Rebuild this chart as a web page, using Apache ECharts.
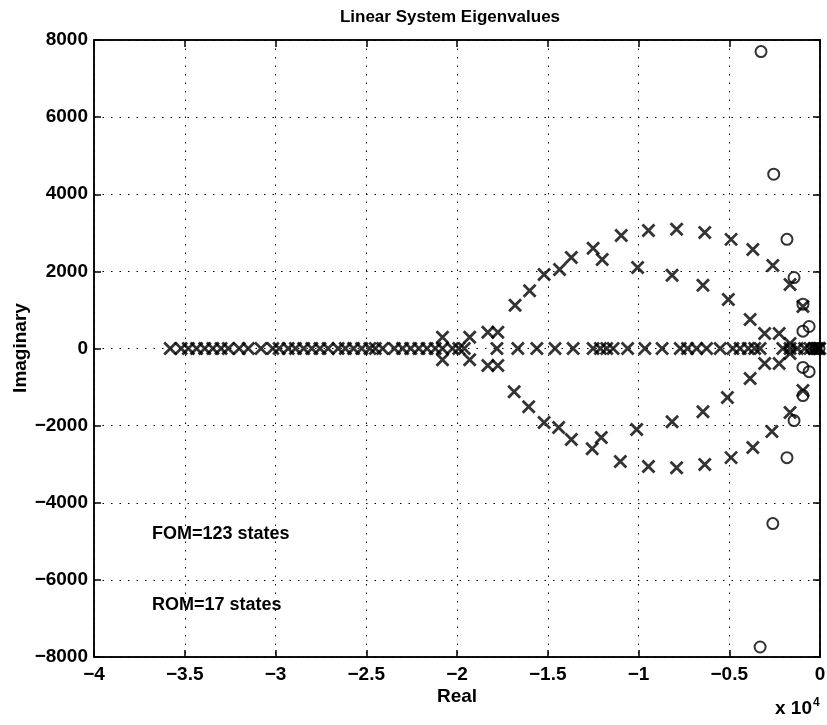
<!DOCTYPE html>
<html>
<head>
<meta charset="utf-8">
<script src="https://cdn.jsdelivr.net/npm/echarts@6/dist/echarts.min.js"></script>
<style>
  html, body { margin: 0; padding: 0; background: #fff; }
  #chart { width: 827px; height: 725px; }
</style>
</head>
<body>
<div id="chart"></div>
<script>
// eigenvalues on the real axis (imag = 0)
var fomAxisRe = [-35800, -35200, -34800, -34350, -33900, -33450, -33000, -32600, -32000, -31500,
  -30800, -30150, -29800, -29300, -28900, -28450, -28000, -27550, -27100, -26550, -26150,
  -25700, -25250, -24800, -24500, -24100, -23450, -23000, -22550, -22100, -21650, -21200,
  -20800, -20250, -19900, -19600, -17800, -16650, -15600, -14600, -13600, -12500, -12100,
  -11750, -11400, -10600, -9650, -8700, -7700, -7300, -6800, -6250, -5500, -4800, -4400,
  -3950, -3600, -3300, -2050, -1650, -1250, -850, -550, -330, -160, -60, -20];

// complex eigenvalues, upper half plane
var fomUpperRe = [-20800, -19300, -18300, -17750, -16800, -16000, -15200, -14350, -13700, -12500,
  -12000, -10950, -10050, -9450, -7900, -8150, -6350, -6450, -4900, -5050, -3700, -3850,
  -3050, -2250, -2600, -1650, -940, -1650];
var fomUpperIm = [290, 290, 420, 420, 1120, 1500, 1920, 2050, 2360, 2600,
  2310, 2930, 2100, 3060, 3090, 1900, 3010, 1640, 2830, 1270, 2570, 750,
  390, 390, 2150, 1660, 1090, 130];

// complex eigenvalues, lower half plane
var fomLowerRe = [-20800, -19300, -18300, -17750, -16850, -16050, -15200, -14400, -13700, -12550,
  -12050, -11000, -10100, -9450, -7900, -8150, -6350, -6450, -4900, -5100, -3700, -3850,
  -3050, -2250, -2650, -1650, -940, -1650];
var fomLowerIm = [-290, -290, -440, -440, -1120, -1510, -1920, -2050, -2360, -2600,
  -2310, -2930, -2100, -3060, -3090, -1900, -3010, -1640, -2830, -1270, -2570, -780,
  -390, -390, -2150, -1660, -1090, -130];

// reduced order model
var romRe = [-3250, -2550, -1820, -1430, -940, -940, -600,
  -3300, -2600, -1820, -1430, -940, -940, -600, -440, -220, -55];
var romIm = [7700, 4520, 2830, 1840, 1150, 450, 570,
  -7740, -4540, -2830, -1870, -1220, -490, -600, 0, 0, 0];

var xMin = -40000, xMax = 0, xStep = 5000;
var yMin = -8000, yMax = 8000, yStep = 2000;

var fomData = [];
fomAxisRe.forEach(function (v) { fomData.push([v, 0]); });
fomUpperRe.forEach(function (v, i) { fomData.push([v, fomUpperIm[i]]); });
fomLowerRe.forEach(function (v, i) { fomData.push([v, fomLowerIm[i]]); });
var romData = romRe.map(function (v, i) { return [v, romIm[i]]; });

var font = 'Liberation Sans, Arial, Helvetica, sans-serif';
var minus = function (s) { return String(s).replace('-', '\u2212'); };

var chart = echarts.init(document.getElementById('chart'));

var tickStyle = { inside: true, length: 7, lineStyle: { color: '#000', width: 1.5 } };
var gridLine = { show: true, lineStyle: { color: '#000', width: 1, type: [1.5, 7] } };
var boxLine = { show: true, onZero: false, lineStyle: { color: '#000', width: 1.5 } };
var labelFont = { fontFamily: font, fontSize: 19, fontWeight: 'bold', color: '#000' };

chart.setOption({
  animation: false,
  backgroundColor: '#fff',
  grid: {
    left: 94, right: 7, top: 40, bottom: 68,
    outerBoundsMode: 'none', containLabel: false,
    show: true, borderColor: '#000', borderWidth: 1.5
  },
  xAxis: [{
    type: 'value', min: xMin, max: xMax, interval: xStep,
    axisLine: boxLine,
    axisTick: tickStyle,
    splitLine: gridLine,
    axisLabel: Object.assign({
      margin: 8,
      formatter: function (v) { return minus(v / 10000); }
    }, labelFont)
  }, {
    type: 'value', position: 'top', min: xMin, max: xMax, interval: xStep,
    axisLine: boxLine,
    axisTick: tickStyle, axisLabel: { show: false }, splitLine: { show: false }
  }],
  yAxis: [{
    type: 'value', min: yMin, max: yMax, interval: yStep,
    axisLine: boxLine,
    axisTick: tickStyle,
    splitLine: gridLine,
    axisLabel: Object.assign({
      margin: 6,
      formatter: function (v) { return minus(v); }
    }, labelFont)
  }, {
    type: 'value', position: 'right', min: yMin, max: yMax, interval: yStep,
    axisLine: boxLine,
    axisTick: tickStyle, axisLabel: { show: false }, splitLine: { show: false }
  }],
  graphic: [{
    type: 'text', x: 450, y: 17,
    style: {
      text: 'Linear System Eigenvalues', font: 'bold 17px ' + font, fill: '#000',
      textAlign: 'center', textVerticalAlign: 'middle'
    }
  }, {
    type: 'text', x: 457, y: 697,
    style: { text: 'Real', font: 'bold 19px ' + font, fill: '#000', textAlign: 'center', textVerticalAlign: 'middle' }
  }, {
    type: 'text', x: 21, y: 348, rotation: Math.PI / 2,
    style: { text: 'Imaginary', font: 'bold 19px ' + font, fill: '#000', textAlign: 'center', textVerticalAlign: 'middle' }
  }, {
    type: 'text', x: 152, y: 534,
    style: { text: 'FOM=123 states', font: 'bold 18px ' + font, fill: '#000', textVerticalAlign: 'middle' }
  }, {
    type: 'text', x: 152, y: 605,
    style: { text: 'ROM=17 states', font: 'bold 18px ' + font, fill: '#000', textVerticalAlign: 'middle' }
  }, {
    type: 'text', left: 775, top: 697,
    style: {
      text: '{a|x 10}{b|4}',
      rich: {
        a: { fontFamily: font, fontSize: 19, fontWeight: 'bold', fill: '#000' },
        b: { fontFamily: font, fontSize: 12, fontWeight: 'bold', fill: '#000', verticalAlign: 'top', padding: [0, 0, 12, 1] }
      }
    }
  }],
  series: [{
    name: 'FOM', type: 'scatter', xAxisIndex: 0, yAxisIndex: 0,
    data: fomData,
    symbol: 'path://M0,0L10,10M10,0L0,10',
    symbolSize: 12,
    itemStyle: { color: 'rgba(0,0,0,0)', borderColor: '#000', borderWidth: 2.8 }
  }, {
    name: 'ROM', type: 'scatter', xAxisIndex: 0, yAxisIndex: 0,
    data: romData,
    symbol: 'circle',
    symbolSize: 11,
    itemStyle: { color: 'rgba(0,0,0,0)', borderColor: '#000', borderWidth: 2 }
  }]
});
</script>
</body>
</html>
